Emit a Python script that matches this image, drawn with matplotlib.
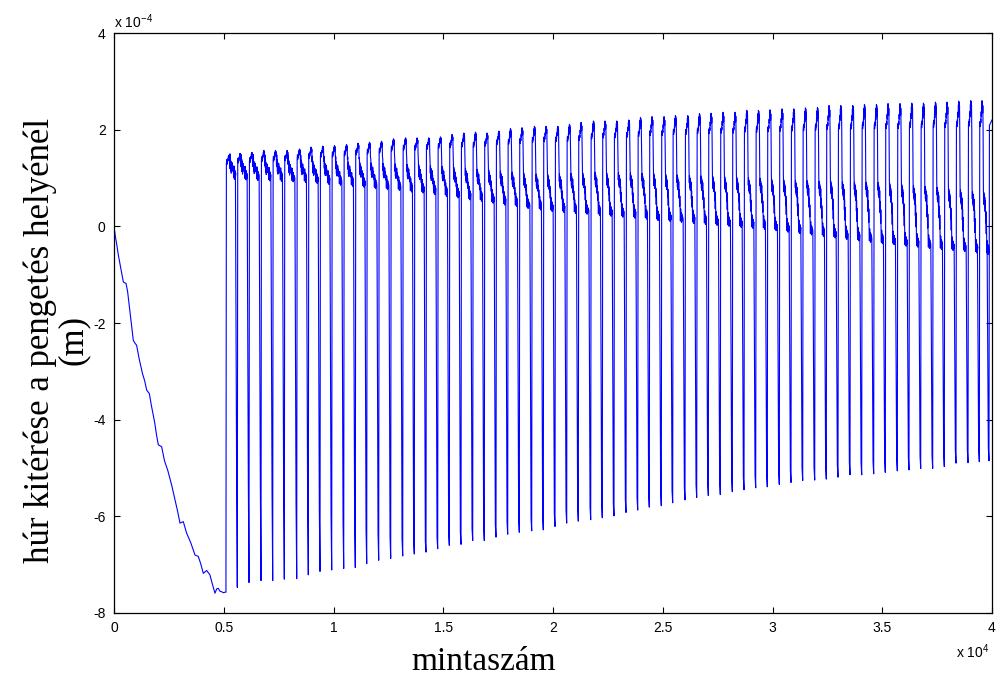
import numpy as np
import matplotlib
matplotlib.use("Agg")
import matplotlib.pyplot as plt

plt.rcParams['font.family'] = ['Liberation Sans', 'DejaVu Sans']
plt.rcParams['mathtext.default'] = 'regular'

# values in units of 1e-4 m, x in samples
# slow decline before the string is released
decl_x = [0, 60, 120, 200, 300, 425, 490, 547, 620, 750, 880, 960, 1030, 1150, 1300, 1400,
          1490, 1610, 1700, 1850, 1950, 2020, 2170, 2300, 2450, 2630, 2800, 2900, 3007, 3157,
          3310, 3500, 3690, 3840, 3950, 4070, 4220, 4370, 4480, 4600, 4680, 4750, 4830, 4906,
          4980, 5057, 5100]
decl_y = [0.0, -0.2, -0.36, -0.6, -0.85, -1.15, -1.17, -1.18, -1.35, -1.85, -2.36, -2.42,
          -2.46, -2.75, -3.05, -3.2, -3.39, -3.46, -3.7, -4.05, -4.35, -4.52, -4.56, -4.85,
          -5.05, -5.36, -5.7, -5.9, -6.14, -6.11, -6.35, -6.55, -6.80, -6.83, -6.98, -7.18,
          -7.12, -7.21, -7.4, -7.59, -7.5, -7.49, -7.55, -7.56, -7.58, -7.57, -7.57]

# one entry per oscillation period (top part followed by the trough)
trough_x = [5617, 6150, 6697, 7230, 7759, 8324, 8852, 9385, 9918, 10465, 10993, 11513, 12059,
            12606, 13153, 13681, 14214, 14747, 15276, 15809, 16342, 16870, 17403, 17936, 18465,
            19030, 19558, 20091, 20624, 21153, 21718, 22246, 22779, 23326, 23859, 24387, 24934,
            25453, 26014, 26547, 27076, 27622, 28169, 28702, 29235, 29763, 30310, 30843, 31376,
            31923, 32451, 32984, 33531, 34064, 34610, 35139, 35686, 36219, 36752, 37298, 37827,
            38360, 38907, 39422, 39863]
trough_y = [-7.47, -7.37, -7.33, -7.33, -7.30, -7.29, -7.21, -7.14, -7.11, -7.08, -7.06, -6.98,
            -6.91, -6.87, -6.82, -6.78, -6.74, -6.67, -6.60, -6.58, -6.50, -6.50, -6.43, -6.37,
            -6.33, -6.30, -6.28, -6.21, -6.14, -6.10, -6.07, -6.03, -5.99, -5.92, -5.87, -5.81,
            -5.78, -5.72, -5.66, -5.61, -5.57, -5.55, -5.49, -5.45, -5.41, -5.39, -5.34, -5.30,
            -5.26, -5.25, -5.23, -5.19, -5.14, -5.14, -5.12, -5.09, -5.06, -5.04, -5.01, -5.01,
            -4.97, -4.90, -4.89, -4.87, -4.85]
bend_y = [-5.21, -5.30, -5.37, -5.47, -5.54, -5.73, -5.80, -5.90, -5.97, -6.07, -6.14, -6.28,
          -6.35, -6.42, -6.47, -6.53, -6.52, -6.44, -6.36, -6.33, -6.25, -6.24, -6.17, -6.11,
          -6.07, -6.04, -6.02, -5.95, -5.88, -5.84, -5.81, -5.77, -5.73, -5.66, -5.61, -5.55,
          -5.52, -5.46, -5.40, -5.35, -5.31, -5.29, -5.23, -5.19, -5.15, -5.13, -5.08, -5.04,
          -5.00, -4.99, -4.97, -4.93, -4.88, -4.88, -4.86, -4.83, -4.80, -4.78, -4.75, -4.75,
          -4.71, -4.64, -4.63, -4.61, -4.59]
peak_y = [1.47, 1.51, 1.53, 1.57, 1.57, 1.57, 1.60, 1.64, 1.66, 1.67, 1.69, 1.72, 1.74, 1.76,
          1.81, 1.83, 1.83, 1.83, 1.85, 1.90, 1.93, 1.95, 1.93, 1.97, 2.02, 2.04, 2.07, 2.07,
          2.07, 2.11, 2.15, 2.18, 2.18, 2.18, 2.20, 2.25, 2.27, 2.27, 2.29, 2.29, 2.33, 2.34,
          2.36, 2.36, 2.40, 2.40, 2.41, 2.43, 2.43, 2.45, 2.46, 2.50, 2.50, 2.50, 2.52, 2.52,
          2.54, 2.54, 2.55, 2.55, 2.57, 2.57, 2.59, 2.60, 2.60]
plateau_y = [1.30, 1.33, 1.34, 1.36, 1.37, 1.38, 1.40, 1.43, 1.45, 1.46, 1.48, 1.50, 1.52, 1.54,
             1.58, 1.60, 1.60, 1.61, 1.63, 1.65, 1.66, 1.66, 1.68, 1.71, 1.72, 1.74, 1.76, 1.77,
             1.77, 1.78, 1.80, 1.83, 1.85, 1.85, 1.86, 1.88, 1.90, 1.90, 1.92, 1.92, 1.94, 1.94,
             1.95, 1.95, 1.97, 1.97, 1.98, 1.99, 1.99, 2.00, 2.01, 2.03, 2.03, 2.03, 2.04, 2.04,
             2.05, 2.05, 2.06, 2.06, 2.07, 2.07, 2.08, 2.09, 2.09]
mid_y = [1.35, 1.33, 1.34, 1.32, 1.33, 1.31, 1.32, 1.30, 1.30, 1.29, 1.28, 1.27, 1.26, 1.25,
         1.24, 1.23, 1.22, 1.20, 1.19, 1.17, 1.15, 1.13, 1.11, 1.09, 1.07, 1.05, 1.03, 1.02,
         1.03, 1.04, 1.05, 1.06, 1.05, 1.06, 1.05, 1.04, 1.04, 1.02, 1.01, 1.00, 0.99, 0.98,
         0.97, 0.96, 0.95, 0.94, 0.92, 0.91, 0.90, 0.89, 0.88, 0.88, 0.87, 0.86, 0.86, 0.85,
         0.83, 0.81, 0.79, 0.77, 0.75, 0.72, 0.70, 0.67, 0.65]
low_y = [1.05, 1.04, 1.03, 1.02, 1.01, 1.00, 0.99, 0.97, 0.95, 0.93, 0.91, 0.89, 0.86, 0.84,
         0.82, 0.79, 0.77, 0.74, 0.70, 0.67, 0.63, 0.60, 0.56, 0.52, 0.49, 0.45, 0.42, 0.39,
         0.37, 0.35, 0.33, 0.31, 0.29, 0.27, 0.25, 0.23, 0.20, 0.18, 0.16, 0.14, 0.12, 0.10,
         0.08, 0.06, 0.04, 0.02, -0.01, -0.04, -0.07, -0.10, -0.13, -0.16, -0.19, -0.22,
         -0.25, -0.28, -0.30, -0.33, -0.35, -0.38, -0.40, -0.42, -0.44, -0.47, -0.50]
# last rise after the final trough
tail_x = [39883, 40000]
tail_y = [2.09, 2.2]


def cycle(t0, t1, b, p, q, r, d, m):
    # shape of one period between two troughs
    h = p - b
    g = q - r
    pts = [(20, b), (35, b + 0.08), (45, b - 0.02), (60, b + 0.25 * h), (70, b + 0.1 * h),
           (85, b + 0.55 * h), (95, b + 0.35 * h), (110, b + 0.85 * h), (118, b + 0.6 * h),
           (125, p), (132, p - 0.3 * h), (140, p - 0.05 * h), (150, p - 0.5 * h),
           (160, p - 0.2 * h), (172, b - 0.1), (185, q + 0.15), (195, q - 0.1),
           (205, q + 0.05), (215, q - 0.2), (225, q), (240, q - 0.25), (250, q - 0.05),
           (265, q - 0.3 * g), (275, q - 0.1 * g), (290, q - 0.5 * g), (300, q - 0.3 * g),
           (315, q - 0.7 * g), (325, q - 0.45 * g), (340, r + 0.1), (350, r - 0.05),
           (365, r + 0.2), (375, r), (390, r + 0.12), (400, r - 0.08), (415, r + 0.1),
           (430, r - 0.05), (445, r + 0.05)]
    xs = [t0 + u for u, _ in pts] + [t1 - 85, t1 - 30, t1]
    ys = [v for _, v in pts] + [r, d, m]
    return xs, ys


x = list(decl_x)
y = list(decl_y)
prev = decl_x[-1]
for j in range(len(trough_x)):
    xs, ys = cycle(prev, trough_x[j], plateau_y[j], peak_y[j], mid_y[j], low_y[j],
                   bend_y[j], trough_y[j])
    x += xs
    y += ys
    prev = trough_x[j]
x += tail_x
y += tail_y
x = np.array(x, dtype=float)
y = np.array(y) * 1e-4

fig = plt.figure(figsize=(9.98, 6.79), dpi=100)
ax = fig.add_axes([114 / 998, 1 - 613 / 679, 878 / 998, 580 / 679])
ax.plot(x, y, color=(0, 0, 1), lw=0.8)

ax.set_xlim(0, 40000)
ax.set_ylim(-8e-4, 4e-4)
ax.set_xticks(np.arange(0, 40001, 5000))
ax.set_xticklabels(['0', '0.5', '1', '1.5', '2', '2.5', '3', '3.5', '4'])
ax.set_yticks(np.arange(-8e-4, 4.01e-4, 2e-4))
ax.set_yticklabels(['-8', '-6', '-4', '-2', '0', '2', '4'])
ax.tick_params(direction='in', length=4, width=0.8, top=True, right=True,
               labelsize=10, pad=6)
for s in ax.spines.values():
    s.set_linewidth(0.9)

fig.text(114 / 998, 1 - 22 / 679, 'x 10$^{-4}$', fontsize=10, ha='left', va='center')
fig.text(956 / 998, 1 - 652 / 679, 'x 10$^{4}$', fontsize=10, ha='left', va='center')

serif = ['Liberation Serif', 'DejaVu Serif']
fig.text(484 / 998, 1 - 662 / 679, 'mintaszám', fontsize=24, family=serif,
         ha='center', va='center')
fig.text(57 / 998, 1 - 340 / 679, 'húr kitérése a pengetés helyénél\n(m)', fontsize=25,
         family=serif, rotation=90, ha='center', va='center', multialignment='center',
         linespacing=1.0)

fig.savefig('out.png', dpi=100)
